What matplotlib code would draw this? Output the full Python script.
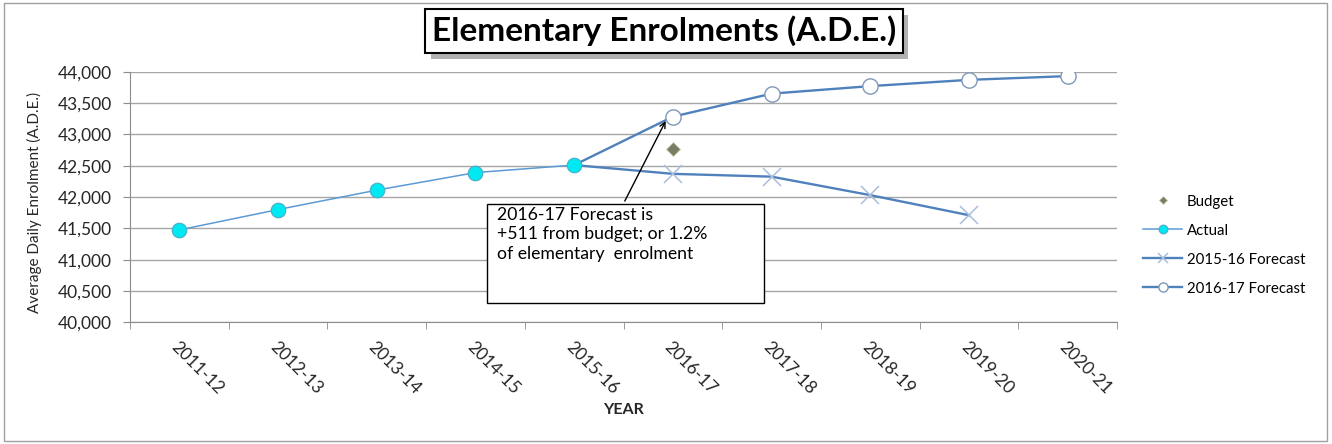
import matplotlib
matplotlib.use('Agg')
import matplotlib.pyplot as plt
import matplotlib.patheffects as pe
from matplotlib.patches import Rectangle
import numpy as np

# Data
years = ['2011-12', '2012-13', '2013-14', '2014-15', '2015-16',
         '2016-17', '2017-18', '2018-19', '2019-20', '2020-21']
actual = [41475, 41800, 42110, 42390, 42510]
fc_1516 = [42510, 42370, 42325, 42030, 41710]          # 2015-16 .. 2019-20
fc_1617 = [42510, 43282, 43650, 43770, 43870, 43930]   # 2015-16 .. 2020-21
budget = [42771]                                        # 2016-17

x = np.arange(len(years))

plt.rcParams['font.family'] = ['Lato', 'DejaVu Sans']
text_color = '#262626'
grid_color = '#A6A6A6'

fig = plt.figure(figsize=(13.32, 4.44), dpi=100)
ax = fig.add_axes([0.0976, 0.274, 0.741, 0.5645])

# series (forecasts start at the last actual year; their first marker hides under it)
ax.plot(x[4:9], fc_1516, color='#4F81BD', lw=1.7, zorder=3,
        marker='x', markersize=13, markeredgewidth=1.1, markevery=slice(1, None),
        markeredgecolor='#A9BFDC', label='2015-16 Forecast')
ax.plot(x[4:10], fc_1617, color='#4F81BD', lw=1.7, zorder=4,
        marker='o', markersize=11, markerfacecolor='white', markevery=slice(1, None),
        markeredgecolor='#7F97B9', markeredgewidth=1.0, label='2016-17 Forecast')
ax.plot(x[:5], actual, color='#5B9BD5', lw=1.1, zorder=5,
        marker='o', markersize=10.5, markerfacecolor='#00E8F2',
        markeredgecolor='#4BACC6', markeredgewidth=0.8, label='Actual')
ax.plot(x[5:6], budget, linestyle='none', marker='D', markersize=7,
        color='#7A7D62', markeredgecolor='#C8C8B0', markeredgewidth=0.6,
        zorder=6, label='Budget')

# axes
ax.set_xlim(-0.5, len(years) - 0.5)
ax.set_ylim(40000, 44000)
ax.set_yticks(np.arange(40000, 44001, 500))
ax.set_yticklabels([f'{v:,}' for v in range(40000, 44001, 500)],
                   fontsize=12.5, color=text_color)
ax.set_xticks(x)
ax.set_xticklabels(years, rotation=-45, ha='left', va='top',
                   rotation_mode='anchor', fontsize=12.5, color=text_color)
ax.set_xticks(np.arange(-0.5, len(years)), minor=True)
ax.tick_params(axis='x', which='major', length=0, pad=12)
ax.tick_params(axis='x', which='minor', length=5, color='#8C8C8C', direction='out')
ax.tick_params(axis='y', length=5, color='#8C8C8C', direction='out', pad=8)

ax.grid(axis='y', color=grid_color, lw=1)
ax.set_axisbelow(True)
for s in ['top', 'right']:
    ax.spines[s].set_visible(False)
for s in ['left', 'bottom']:
    ax.spines[s].set_color('#8C8C8C')

ax.set_ylabel('Average Daily Enrolment (A.D.E.)', fontsize=11, color=text_color)
ax.yaxis.set_label_coords(-0.089, 0.48)
ax.set_xlabel('YEAR', fontsize=11.5, fontweight='bold', color=text_color)
ax.xaxis.set_label_coords(0.5, -0.32)

# title with shadowed box
t = fig.text(0.4985, 0.930, 'Elementary Enrolments (A.D.E.)', ha='center', va='center',
             fontsize=24, fontweight='bold', color='black',
             bbox=dict(boxstyle='square,pad=0.2', fc='white', ec='black', lw=1.5))
t.get_bbox_patch().set_path_effects([pe.SimplePatchShadow(offset=(4, -4), shadow_rgbFace='#808080', alpha=0.6),
                                     pe.Normal()])

# callout box
ax.add_patch(Rectangle((0.3617, 0.077), 0.2806, 0.397, transform=ax.transAxes,
                       fc='white', ec='black', lw=1, zorder=7))
ax.text(0.372, 0.462, '2016-17 Forecast is\n+511 from budget; or 1.2%\nof elementary  enrolment',
        transform=ax.transAxes, ha='left', va='top', fontsize=12.7, color='black',
        linespacing=1.3, zorder=8)
ax.annotate('', xy=(x[5] - 0.06, fc_1617[1] - 30), xycoords='data',
            xytext=(0.5, 0.474), textcoords='axes fraction',
            arrowprops=dict(arrowstyle='->', color='black', lw=1), zorder=8)

# legend
handles, labels = ax.get_legend_handles_labels()
order = [3, 2, 0, 1]
ax.legend([handles[i] for i in order], [labels[i] for i in order],
          loc='center left', bbox_to_anchor=(0.848, 0.448), bbox_transform=fig.transFigure,
          frameon=False, fontsize=10.8, labelspacing=1.0, handlelength=2.6,
          handletextpad=0.3, markerscale=0.6)

# outer border
fig.patches.append(Rectangle((0.003, 0.006), 0.993, 0.988, transform=fig.transFigure,
                             fill=False, ec='#A0A0A0', lw=1))

plt.savefig('out.png', dpi=100)
